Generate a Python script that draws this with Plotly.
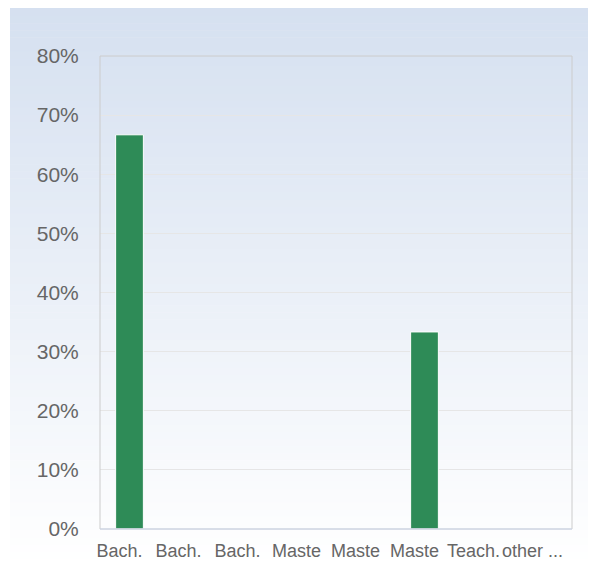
import plotly.graph_objects as go

tick_labels = ["Bach.", "Bach.", "Bach.", "Maste", "Maste", "Maste", "Teach.", "other ..."]
values = [66.67, 0, 0, 0, 0, 33.33, 0, 0]
y_ticks = [0, 10, 20, 30, 40, 50, 60, 70, 80]
y_tick_text = [f"{v}%" for v in y_ticks]

# page body has an 8px margin; figure sized to fit the window
W, H = 588, 558
L, R, T, B = 92, 24, 48, 37
pw, ph = W - L - R, H - T - B

x_pos = list(range(len(tick_labels)))

fig = go.Figure()
fig.add_trace(go.Bar(
    x=x_pos, y=values, width=0.47,
    marker=dict(color="#2e8b57", line=dict(color="#ffffff", width=1)),
    hoverinfo="skip",
))

# background gradient (figure pixels -> paper coords)
shapes = []
n = 80
top_c = (213, 224, 240)
bot_c = (255, 255, 255)
y_start, y_end = -6, H
x_start, x_end = 2, W
def px_to_paper_x(px):
    return (px - L) / pw
def px_to_paper_y(py):
    return 1 - (py - T) / ph
for i in range(n):
    f = i / (n - 1)
    c = tuple(round(top_c[k] + (bot_c[k] - top_c[k]) * f) for k in range(3))
    ya = y_start + (y_end - y_start) * i / n
    yb = y_start + (y_end - y_start) * (i + 1) / n + 0.6
    shapes.append(dict(
        type="rect", xref="paper", yref="paper", layer="below",
        x0=px_to_paper_x(x_start), x1=px_to_paper_x(x_end),
        y0=px_to_paper_y(yb), y1=px_to_paper_y(ya),
        fillcolor=f"rgb{c}", line=dict(width=0),
    ))
# plot border
shapes.append(dict(type="rect", xref="paper", yref="paper", x0=0, x1=1, y0=0, y1=1,
                   line=dict(color="#cccccc", width=1), layer="above"))
shapes.append(dict(type="line", xref="paper", yref="paper", x0=0, x1=1, y0=0, y1=0,
                   line=dict(color="#ccd6eb", width=1), layer="above"))

fig.update_layout(
    width=W, height=H,
    margin=dict(l=L, r=R, t=T, b=B),
    paper_bgcolor="#ffffff",
    plot_bgcolor="rgba(0,0,0,0)",
    showlegend=False,
    shapes=shapes,
    font=dict(family="Liberation Sans, Arial, sans-serif", color="#666666"),
    xaxis=dict(
        tickmode="array", tickvals=x_pos, ticktext=tick_labels,
        range=[-0.5, len(tick_labels) - 0.5],
        showgrid=False, zeroline=False, showline=False,
        tickfont=dict(size=18, color="#666666"),
        tickangle=0, automargin=False, ticklabelshift=-10,
        ticks="outside", ticklen=5, tickcolor="rgba(0,0,0,0)",
    ),
    yaxis=dict(
        tickmode="array", tickvals=y_ticks, ticktext=y_tick_text,
        range=[0, 80], automargin=False,
        showgrid=True, gridcolor="#e6e6e6", gridwidth=1,
        zeroline=False, showline=False,
        tickfont=dict(size=21, color="#666666"),
        ticks="outside", ticklen=16, tickcolor="rgba(0,0,0,0)",
    ),
)

fig.write_html("out.html")
